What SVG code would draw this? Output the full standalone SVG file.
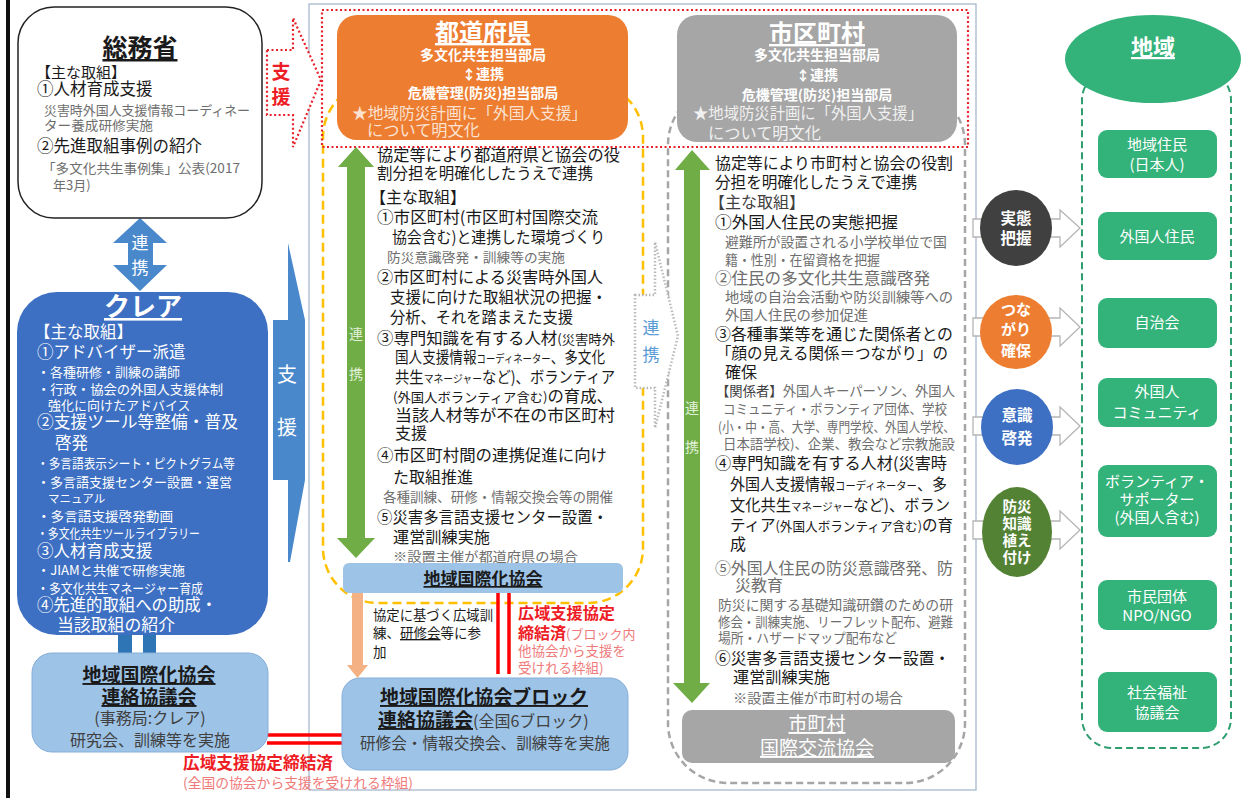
<svg xmlns="http://www.w3.org/2000/svg" width="1249" height="798" viewBox="0 0 1249 798">
<style>
text{font-family:"Noto Sans CJK JP","Noto Sans",sans-serif;fill:#1a1a1a}
.b{font-weight:bold}
.u{text-decoration:underline}
.w{fill:#ffffff}
.g{fill:#6e6e6e}
.c{text-anchor:middle}
.r{fill:#ee1c25;font-weight:bold}
.lr{fill:#f07a7a}
.t16{font-size:16px}
.t17{font-size:17px}
.t13{font-size:13px}
.t14{font-size:14px}
.gb{fill:#33b27a}
.hol{fill:#ffffff;stroke:#b5b5b5;stroke-width:1.3}
</style>
<rect width="1249" height="798" fill="#ffffff"/>
<rect x="6" y="0" width="4" height="798" fill="#111"/>
<rect x="309" y="4" width="667" height="786" fill="none" stroke="#9fb3c9" stroke-width="1.2"/>

<rect x="323" y="82" width="320" height="521" rx="55" fill="none" stroke="#ffc000" stroke-width="2.5" stroke-dasharray="9 5"/>
<rect x="668" y="85" width="297" height="698" rx="60" fill="none" stroke="#a6a6a6" stroke-width="2.5" stroke-dasharray="7 4"/>

<g id="connectors">
  <polygon points="140,218 167,243 153,243 153,265 167,265 140,291 113,265 128,265 128,243 113,243" fill="#4a88cc"/>
  <polygon points="288,243 305,320 305,480 290,562 288,562 288,480 273,480 273,320 288,320" fill="#4a88cc"/>
  <polygon points="267,50 293,50 293,18 321,80 293,147 293,115 267,115" fill="#fff" stroke="#e8202a" stroke-width="2.2" stroke-dasharray="2 2.5"/>
  <rect x="118" y="634" width="14" height="20" fill="#2e75b6"/>
  <rect x="143" y="634" width="13" height="20" fill="#2e75b6"/>
  <line x1="267" y1="735" x2="342" y2="735" stroke="#ff0000" stroke-width="3.5"/>
  <line x1="267" y1="743" x2="342" y2="743" stroke="#ff0000" stroke-width="3.5"/>
  <line x1="498" y1="593" x2="498" y2="674" stroke="#ff0000" stroke-width="3.5"/>
  <line x1="509" y1="593" x2="509" y2="674" stroke="#ff0000" stroke-width="3.5"/>
  <polygon points="352,593 363,593 363,665 368,665 357.5,678 347,665 352,665" fill="#f4b183"/>
  <polygon points="635,295 655,295 655,242 678,336 655,428 655,388 635,388" fill="#fff" stroke="#b9b9b9" stroke-width="2.5" stroke-dasharray="1.5 2"/>
  <polygon points="973,219 1060,219 1060,210 1080,228 1060,247 1060,237 973,237" class="hol"/>
  <polygon points="973,318 1060,318 1060,308 1080,327 1060,346 1060,336 973,336" class="hol"/>
  <polygon points="973,417 1060,417 1060,407 1080,426 1060,445 1060,435 973,435" class="hol"/>
  <polygon points="973,521 1060,521 1060,511 1080,530 1060,549 1060,539 973,539" class="hol"/>
</g>
<text x="140" y="249" class="c w" font-size="17">連</text>
<text x="140" y="274" class="c w" font-size="17">携</text>
<text x="287" y="382" class="c w" font-size="20">支</text>
<text x="287" y="435" class="c w" font-size="20">援</text>
<text x="281" y="79" class="c r" font-size="19" font-weight="normal">支</text>
<text x="281" y="104" class="c r" font-size="19" font-weight="normal">援</text>
<text x="651" y="334" class="c" font-size="17" style="fill:#5b9bd5">連</text>
<text x="651" y="361" class="c" font-size="17" style="fill:#5b9bd5">携</text>

<g id="soumusho">
  <rect x="18" y="7" width="244" height="211" rx="36" fill="#fff" stroke="#222" stroke-width="1.5"/>
  <text x="140" y="57" class="c b u" font-size="25">総務省</text>
  <text x="36" y="78" font-size="15">【主な取組】</text>
  <text x="37" y="95" font-size="16.5">①人材育成支援</text>
  <text x="44" y="115" class="t13 g" textLength="206" lengthAdjust="spacingAndGlyphs">災害時外国人支援情報コーディネー</text>
  <text x="44" y="130" class="t13 g" textLength="109" lengthAdjust="spacingAndGlyphs">ター養成研修実施</text>
  <text x="37" y="152" font-size="16.5">②先進取組事例の紹介</text>
  <text x="42" y="173" class="t13 g" textLength="198" lengthAdjust="spacingAndGlyphs">「多文化共生事例集」公表(2017</text>
  <text x="53" y="190" class="t13 g">年3月)</text>
</g>

<g id="clair">
  <rect x="17" y="292" width="251" height="343" rx="40" fill="#3d6fc2"/>
  <text x="143" y="316" class="c b u w" font-size="26">クレア</text>
  <text x="34" y="338" class="w" font-size="16.5">【主な取組】</text>
  <text x="37" y="358" class="w" font-size="16.5">①アドバイザー派遣</text>
  <text x="37" y="377" class="t13 w">・各種研修・訓練の講師</text>
  <text x="37" y="394" class="t13 w" textLength="186" lengthAdjust="spacingAndGlyphs">・行政・協会の外国人支援体制</text>
  <text x="48" y="410" class="t13 w">強化に向けたアドバイス</text>
  <text x="37" y="428" class="w" font-size="16.5" textLength="201" lengthAdjust="spacingAndGlyphs">②支援ツール等整備・普及</text>
  <text x="55" y="449" class="w" font-size="16.5">啓発</text>
  <text x="37" y="468" class="t13 w" textLength="198" lengthAdjust="spacingAndGlyphs">・多言語表示シート・ピクトグラム等</text>
  <text x="37" y="487" class="t13 w" textLength="195" lengthAdjust="spacingAndGlyphs">・多言語支援センター設置・運営</text>
  <text x="48" y="503" class="w" font-size="11.5">マニュアル</text>
  <text x="37" y="521" class="t13 w" textLength="136" lengthAdjust="spacingAndGlyphs">・多言語支援啓発動画</text>
  <text x="37" y="538" class="t13 w" textLength="163" lengthAdjust="spacingAndGlyphs">・多文化共生ツールライブラリー</text>
  <text x="37" y="557" class="w" font-size="16.5">③人材育成支援</text>
  <text x="37" y="575" class="t13 w" textLength="148" lengthAdjust="spacingAndGlyphs">・JIAMと共催で研修実施</text>
  <text x="37" y="593" class="t13 w" textLength="166" lengthAdjust="spacingAndGlyphs">・多文化共生マネージャー育成</text>
  <text x="37" y="611" class="w" font-size="16.5" textLength="180" lengthAdjust="spacingAndGlyphs">④先進的取組への助成・</text>
  <text x="57" y="631" class="w" font-size="16.5" textLength="118" lengthAdjust="spacingAndGlyphs">当該取組の紹介</text>
</g>

<g id="renraku-kyogikai">
  <rect x="32" y="653" width="236" height="99" rx="20" fill="#9dc3e6" stroke="#86aedb" stroke-width="1"/>
  <text x="149" y="682" class="c b u" font-size="19">地域国際化協会</text>
  <text x="149" y="704" class="c b u" font-size="19">連絡協議会</text>
  <text x="150" y="724" class="c" font-size="16" style="fill:#404040">(事務局:クレア)</text>
  <text x="150" y="746" class="c" font-size="16" style="fill:#404040">研究会、訓練等を実施</text>
</g>
<text x="183" y="769" class="r" font-size="16.5" textLength="150" lengthAdjust="spacingAndGlyphs">広域支援協定締結済</text>
<text x="183" y="788" class="lr" font-size="13.5" textLength="230" lengthAdjust="spacingAndGlyphs">(全国の協会から支援を受けれる枠組)</text>

<g id="todofuken">
  <rect x="337" y="15" width="291" height="125" rx="20" fill="#ed7d31"/>
  <text x="483" y="41" class="c b u w" font-size="24">都道府県</text>
  <text x="483" y="60" class="c b w t14">多文化共生担当部局</text>
  <text x="483" y="79" class="c b w t14">↕連携</text>
  <text x="483" y="98" class="c b w t14">危機管理(防災)担当部局</text>
  <text x="352" y="119" class="t16" style="fill:#fbe2d2" textLength="235" lengthAdjust="spacingAndGlyphs">★地域防災計画に「外国人支援」</text>
  <text x="367" y="136" class="t16" style="fill:#fbe2d2" textLength="113" lengthAdjust="spacingAndGlyphs">について明文化</text>
</g>

<g id="shikuchoson">
  <rect x="677" y="15" width="280" height="127" rx="20" fill="#a6a6a6"/>
  <text x="817" y="42" class="c b u w" font-size="24">市区町村</text>
  <text x="817" y="60" class="c b w t14">多文化共生担当部局</text>
  <text x="817" y="80" class="c b w t14">↕連携</text>
  <text x="817" y="100" class="c b w t14">危機管理(防災)担当部局</text>
  <text x="693" y="119" class="t16" style="fill:#f0f0f0" textLength="230" lengthAdjust="spacingAndGlyphs">★地域防災計画に「外国人支援」</text>
  <text x="708" y="139" class="t16" style="fill:#f0f0f0" textLength="113" lengthAdjust="spacingAndGlyphs">について明文化</text>
</g>

<rect x="322" y="10" width="646" height="137" fill="none" stroke="#e8202a" stroke-width="2.2" stroke-dasharray="2 2.5"/>

<g id="green-arrows">
  <polygon points="356,147 374,167 365,167 365,538 375,538 356,558 337,538 347,538 347,167 338,167" fill="#70ad47"/>
  <polygon points="692,150 710,170 700,170 700,683 710,683 692,703 673,683 684,683 684,170 675,170" fill="#70ad47"/>
  <text x="356" y="339" class="c t14" style="fill:#e2f0d9">連</text>
  <text x="356" y="379" class="c t14" style="fill:#e2f0d9">携</text>
  <text x="692" y="413" class="c t14" style="fill:#e2f0d9">連</text>
  <text x="692" y="452" class="c t14" style="fill:#e2f0d9">携</text>
</g>

<g id="todofuken-text">
  <text x="377" y="161" class="t16" textLength="243" lengthAdjust="spacingAndGlyphs">協定等により都道府県と協会の役</text>
  <text x="377" y="179" class="t16" textLength="216" lengthAdjust="spacingAndGlyphs">割分担を明確化したうえで連携</text>
  <text x="370" y="203" class="t16">【主な取組】</text>
  <text x="377" y="223" class="t16" textLength="221" lengthAdjust="spacingAndGlyphs">①市区町村(市区町村国際交流</text>
  <text x="392" y="243" class="t16" textLength="213" lengthAdjust="spacingAndGlyphs">協会含む)と連携した環境づくり</text>
  <text x="387" y="262" class="t13 g" textLength="178" lengthAdjust="spacingAndGlyphs">防災意識啓発・訓練等の実施</text>
  <text x="377" y="283" class="t16" textLength="226" lengthAdjust="spacingAndGlyphs">②市区町村による災害時外国人</text>
  <text x="390" y="303" class="t16" textLength="217" lengthAdjust="spacingAndGlyphs">支援に向けた取組状況の把握・</text>
  <text x="390" y="323" class="t16" textLength="183" lengthAdjust="spacingAndGlyphs">分析、それを踏まえた支援</text>
  <text x="377" y="344" class="t16" textLength="238" lengthAdjust="spacingAndGlyphs">③専門知識を有する人材<tspan font-size="13">(災害時外</tspan></text>
  <text x="395" y="363" class="t16" textLength="210" lengthAdjust="spacingAndGlyphs">国人支援情報<tspan font-size="11">コーディネーター</tspan>、多文化</text>
  <text x="395" y="383" class="t16" textLength="220" lengthAdjust="spacingAndGlyphs">共生<tspan font-size="11">マネージャー</tspan>など)、ボランティア</text>
  <text x="393" y="402" class="t16" textLength="220" lengthAdjust="spacingAndGlyphs"><tspan font-size="13">(外国人ボランティア含む)</tspan>の育成、</text>
  <text x="395" y="421" class="t16" textLength="220" lengthAdjust="spacingAndGlyphs">当該人材等が不在の市区町村</text>
  <text x="395" y="439" class="t16">支援</text>
  <text x="377" y="461" class="t16" textLength="230" lengthAdjust="spacingAndGlyphs">④市区町村間の連携促進に向け</text>
  <text x="393" y="483" class="t16" textLength="80" lengthAdjust="spacingAndGlyphs">た取組推進</text>
  <text x="383" y="502" class="g" font-size="13.5" textLength="230" lengthAdjust="spacingAndGlyphs">各種訓練、研修・情報交換会等の開催</text>
  <text x="377" y="523" class="t16" textLength="231" lengthAdjust="spacingAndGlyphs">⑤災害多言語支援センター設置・</text>
  <text x="393" y="543" class="t16" textLength="97" lengthAdjust="spacingAndGlyphs">運営訓練実施</text>
  <text x="393" y="561" class="t13 g" textLength="185" lengthAdjust="spacingAndGlyphs">※設置主催が都道府県の場合</text>
</g>

<g id="chiiki-kokusaika-kyokai">
  <rect x="343" y="563" width="280" height="30" rx="6" fill="#9dc3e6"/>
  <text x="483" y="585" class="c b u" font-size="17">地域国際化協会</text>
</g>

<text x="373" y="620" font-size="13.5" textLength="120" lengthAdjust="spacingAndGlyphs">協定に基づく広域訓</text>
<text x="373" y="638" font-size="13.5">練、<tspan class="u">研修会</tspan>等に参</text>
<text x="373" y="657" font-size="13.5">加</text>
<text x="518" y="619" class="r" font-size="16" textLength="97" lengthAdjust="spacingAndGlyphs">広域支援協定</text>
<text x="518" y="639" class="r" font-size="16">締結済<tspan class="lr" font-size="13" font-weight="normal">(ブロック内</tspan></text>
<text x="518" y="656" class="lr" font-size="13.5">他協会から支援を</text>
<text x="518" y="673" class="lr" font-size="13.5">受けれる枠組)</text>

<g id="block-kyogikai">
  <rect x="342" y="678" width="286" height="92" rx="18" fill="#9dc3e6" stroke="#86aedb" stroke-width="1"/>
  <text x="380" y="704" class="b u" font-size="19" textLength="208" lengthAdjust="spacingAndGlyphs">地域国際化協会ブロック</text>
  <text x="378" y="727" font-size="19"><tspan class="b u">連絡協議会</tspan><tspan font-size="16" style="fill:#404040">(全国6ブロック)</tspan></text>
  <text x="360" y="749" font-size="15.5" style="fill:#404040" textLength="250" lengthAdjust="spacingAndGlyphs">研修会・情報交換会、訓練等を実施</text>
</g>

<g id="shikuchoson-text">
  <text x="715" y="169" class="t16" textLength="238" lengthAdjust="spacingAndGlyphs">協定等により市町村と協会の役割</text>
  <text x="715" y="188" class="t16" textLength="202" lengthAdjust="spacingAndGlyphs">分担を明確化したうえで連携</text>
  <text x="709" y="208" class="t16" style="fill:#404040">【主な取組】</text>
  <text x="715" y="228" class="t16" textLength="183" lengthAdjust="spacingAndGlyphs">①外国人住民の実態把握</text>
  <text x="725" y="247" class="g" font-size="13.5" textLength="222" lengthAdjust="spacingAndGlyphs">避難所が設置される小学校単位で国</text>
  <text x="725" y="265" class="g" font-size="13.5" textLength="155" lengthAdjust="spacingAndGlyphs">籍・性別・在留資格を把握</text>
  <text x="715" y="284" class="t16 g" textLength="215" lengthAdjust="spacingAndGlyphs">②住民の多文化共生意識啓発</text>
  <text x="725" y="302" class="g" font-size="13.5" textLength="228" lengthAdjust="spacingAndGlyphs">地域の自治会活動や防災訓練等への</text>
  <text x="725" y="320" class="g" font-size="13.5" textLength="143" lengthAdjust="spacingAndGlyphs">外国人住民の参加促進</text>
  <text x="715" y="340" class="t16" textLength="238" lengthAdjust="spacingAndGlyphs">③各種事業等を通じた関係者との</text>
  <text x="716" y="359" class="t16" textLength="232" lengthAdjust="spacingAndGlyphs">「顔の見える関係＝つながり」の</text>
  <text x="725" y="378" class="t16">確保</text>
  <text x="716" y="396" class="g" font-size="13.5" textLength="239" lengthAdjust="spacingAndGlyphs"><tspan style="fill:#404040">【関係者】</tspan>外国人キーパーソン、外国人</text>
  <text x="723" y="414" class="g" font-size="13.5" textLength="224" lengthAdjust="spacingAndGlyphs">コミュニティ・ボランティア団体、学校</text>
  <text x="718" y="432" class="g" font-size="13.5" textLength="237" lengthAdjust="spacingAndGlyphs">(小・中・高、大学、専門学校、外国人学校、</text>
  <text x="723" y="449" class="g" font-size="13.5" textLength="232" lengthAdjust="spacingAndGlyphs">日本語学校)、企業、教会など宗教施設</text>
  <text x="715" y="469" class="t16" textLength="232" lengthAdjust="spacingAndGlyphs">④専門知識を有する人材(災害時</text>
  <text x="730" y="490" class="t16" textLength="217" lengthAdjust="spacingAndGlyphs">外国人支援情報<tspan font-size="11">コーディネーター</tspan>、多</text>
  <text x="730" y="511" class="t16" textLength="220" lengthAdjust="spacingAndGlyphs">文化共生<tspan font-size="11">マネージャー</tspan>など)、ボラン</text>
  <text x="730" y="531" class="t16" textLength="223" lengthAdjust="spacingAndGlyphs">ティア<tspan font-size="13">(外国人ボランティア含む)</tspan>の育</text>
  <text x="730" y="550" class="t16">成</text>
  <text x="715" y="574" class="t16 g" textLength="238" lengthAdjust="spacingAndGlyphs">⑤外国人住民の防災意識啓発、防</text>
  <text x="735" y="591" class="t16 g">災教育</text>
  <text x="718" y="610" class="g" font-size="13.5" textLength="235" lengthAdjust="spacingAndGlyphs">防災に関する基礎知識研鑽のための研</text>
  <text x="718" y="627" class="g" font-size="13.5" textLength="235" lengthAdjust="spacingAndGlyphs">修会・訓練実施、リーフレット配布、避難</text>
  <text x="718" y="643" class="g" font-size="13.5" textLength="179" lengthAdjust="spacingAndGlyphs">場所・ハザードマップ配布など</text>
  <text x="715" y="664" class="t16" textLength="235" lengthAdjust="spacingAndGlyphs">⑥災害多言語支援センター設置・</text>
  <text x="733" y="683" class="t16" textLength="97" lengthAdjust="spacingAndGlyphs">運営訓練実施</text>
  <text x="733" y="703" class="g" font-size="13.5" textLength="170" lengthAdjust="spacingAndGlyphs">※設置主催が市町村の場合</text>
</g>

<g id="shichoson-kokusai-koryu-kyokai">
  <rect x="682" y="710" width="273" height="53" rx="10" fill="#a6a6a6"/>
  <text x="817" y="731" class="c u w" font-size="19">市町村</text>
  <text x="817" y="755" class="c u w" font-size="19">国際交流協会</text>
</g>

<g id="circle-jittai">
  <ellipse cx="1016" cy="228" rx="36" ry="38" fill="#404040"/>
  <text x="1016" y="224" class="c b w" font-size="15.5">実態</text>
  <text x="1016" y="244" class="c b w" font-size="15.5">把握</text>
</g>
<g id="circle-tsunagari">
  <ellipse cx="1016" cy="332" rx="36" ry="37" fill="#ed7d31"/>
  <text x="1016" y="315" class="c b w" font-size="15">つな</text>
  <text x="1016" y="335" class="c b w" font-size="15">がり</text>
  <text x="1016" y="356" class="c b w" font-size="15">確保</text>
</g>
<g id="circle-ishiki">
  <ellipse cx="1017" cy="427" rx="36" ry="38" fill="#3d6fc2"/>
  <text x="1017" y="421" class="c b w" font-size="15.5">意識</text>
  <text x="1017" y="444" class="c b w" font-size="15.5">啓発</text>
</g>
<g id="circle-bousai">
  <ellipse cx="1017" cy="532" rx="35" ry="45" fill="#548235"/>
  <text x="1017" y="512" class="c b w" font-size="14.5">防災</text>
  <text x="1017" y="529" class="c b w" font-size="14.5">知識</text>
  <text x="1017" y="546" class="c b w" font-size="14.5">植え</text>
  <text x="1017" y="563" class="c b w" font-size="14.5">付け</text>
</g>

<g id="chiiki">
  <rect x="1082" y="70" width="149" height="678" rx="30" fill="none" stroke="#2e9e6e" stroke-width="2" stroke-dasharray="7 4"/>
  <ellipse cx="1153" cy="59" rx="88" ry="44" class="gb"/>
  <text x="1153" y="55" class="c b u w" font-size="22">地域</text>
</g>
<g id="box-juumin">
  <rect x="1098" y="130" width="119" height="48" rx="9" class="gb"/>
  <text x="1157" y="150" class="c w" font-size="15">地域住民</text>
  <text x="1157" y="170" class="c w" font-size="15">(日本人)</text>
</g>
<g id="box-gaikokujin">
  <rect x="1098" y="212" width="119" height="48" rx="9" class="gb"/>
  <text x="1157" y="242" class="c w" font-size="15">外国人住民</text>
</g>
<g id="box-jichikai">
  <rect x="1098" y="298" width="119" height="50" rx="9" class="gb"/>
  <text x="1157" y="328" class="c w" font-size="15">自治会</text>
</g>
<g id="box-community">
  <rect x="1098" y="378" width="119" height="49" rx="9" class="gb"/>
  <text x="1157" y="397" class="c w" font-size="15">外国人</text>
  <text x="1157" y="418" class="c w" font-size="15">コミュニティ</text>
</g>
<g id="box-volunteer">
  <rect x="1098" y="465" width="119" height="72" rx="9" class="gb"/>
  <text x="1157" y="487" class="c w" font-size="15">ボランティア・</text>
  <text x="1157" y="505" class="c w" font-size="15">サポーター</text>
  <text x="1157" y="523" class="c w" font-size="15">(外国人含む)</text>
</g>
<g id="box-npo">
  <rect x="1098" y="580" width="119" height="50" rx="9" class="gb"/>
  <text x="1157" y="602" class="c w" font-size="15">市民団体</text>
  <text x="1157" y="621" class="c w" font-size="15">NPO/NGO</text>
</g>
<g id="box-shakyo">
  <rect x="1098" y="672" width="119" height="60" rx="9" class="gb"/>
  <text x="1157" y="698" class="c w" font-size="15">社会福祉</text>
  <text x="1157" y="718" class="c w" font-size="15">協議会</text>
</g>
</svg>
